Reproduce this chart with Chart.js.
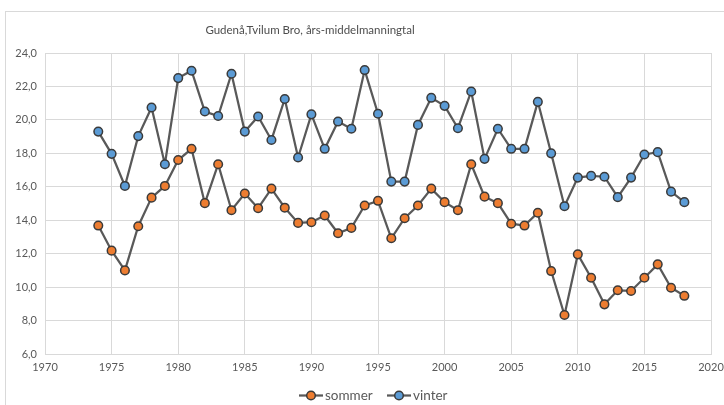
<!DOCTYPE html>
<html>
<head>
<meta charset="utf-8">
<script src="https://cdn.jsdelivr.net/npm/chart.js@4/dist/chart.umd.min.js"></script>
<style>
    html, body { margin: 0; padding: 0; background: #ffffff; }
    #wrap { width: 724px; height: 405px; position: relative; }
</style>
</head>
<body>
<div id="wrap"><canvas id="lineCanvas" width="724" height="405"></canvas></div>
<script>
var years = [1974, 1975, 1976, 1977, 1978, 1979, 1980, 1981, 1982, 1983, 1984, 1985, 1986, 1987, 1988,
    1989, 1990, 1991, 1992, 1993, 1994, 1995, 1996, 1997, 1998, 1999, 2000, 2001, 2002, 2003,
    2004, 2005, 2006, 2007, 2008, 2009, 2010, 2011, 2012, 2013, 2014, 2015, 2016, 2017, 2018];
var sommer = [13.68, 12.18, 11.0, 13.64, 15.35, 16.05, 17.6, 18.27, 15.02, 17.35, 14.6, 15.6, 14.72, 15.89, 14.75,
    13.84, 13.88, 14.28, 13.22, 13.54, 14.88, 15.16, 12.92, 14.12, 14.88, 15.89, 15.08, 14.6, 17.35, 15.41,
    15.02, 13.79, 13.68, 14.45, 10.96, 8.33, 11.96, 10.56, 8.97, 9.81, 9.77, 10.56, 11.36, 9.96, 9.48];
var vinter = [19.3, 17.97, 16.05, 19.03, 20.74, 17.35, 22.5, 22.94, 20.5, 20.23, 22.76, 19.3, 20.2, 18.8, 21.25,
    17.75, 20.33, 18.27, 19.9, 19.47, 22.98, 20.37, 16.31, 16.31, 19.7, 21.32, 20.84, 19.5, 21.7, 17.67,
    19.47, 18.27, 18.27, 21.08, 18.0, 14.84, 16.55, 16.65, 16.6, 15.38, 16.55, 17.93, 18.07, 15.71, 15.08];
var xTicks = [1970, 1975, 1980, 1985, 1990, 1995, 2000, 2005, 2010, 2015, 2020];
var yTicks = [6, 8, 10, 12, 14, 16, 18, 20, 22, 24];
var titleText = 'Gudenå,Tvilum Bro, års-middelmanningtal';

var fontFamily = 'Lato, "Open Sans", sans-serif';
var textColor = '#595959';
var gridColor = '#d9d9d9';

function toPoints(values) {
    return years.map(function (y, i) {
        return { x: y, y: values[i] };
    });
}

function seriesStyle(label, values, fill) {
    return {
        label: label,
        data: toPoints(values),
        borderColor: '#595959',
        borderWidth: 2.25,
        tension: 0,
        pointRadius: 4.3,
        pointHoverRadius: 4.3,
        pointBackgroundColor: fill,
        pointBorderColor: '#3a3a3a',
        pointBorderWidth: 1.5
    };
}

// frame, title and excel-like legend
var decorPlugin = {
    id: 'decor',
    beforeDraw: function (chart) {
        var ctx = chart.ctx;
        ctx.save();
        ctx.fillStyle = '#ffffff';
        ctx.fillRect(0, 0, chart.width, chart.height);
        ctx.strokeStyle = '#d9d9d9';
        ctx.lineWidth = 1;
        ctx.strokeRect(5.5, 11.5, 900, 600);
        ctx.restore();
    },
    afterDraw: function (chart) {
        var ctx = chart.ctx;
        ctx.save();
        ctx.fillStyle = '#4d4d4d';
        ctx.font = '11.5px ' + fontFamily;
        ctx.textAlign = 'center';
        ctx.textBaseline = 'middle';
        ctx.fillText(titleText, 310, 30);

        var items = [
            { text: 'sommer', x: 299, color: '#ed7d31' },
            { text: 'vinter', x: 387, color: '#5b9bd5' }
        ];
        var ly = 395.5;
        ctx.font = '13.5px ' + fontFamily;
        ctx.textAlign = 'left';
        items.forEach(function (it) {
            ctx.strokeStyle = '#595959';
            ctx.lineWidth = 2.25;
            ctx.beginPath();
            ctx.moveTo(it.x, ly);
            ctx.lineTo(it.x + 24, ly);
            ctx.stroke();
            ctx.beginPath();
            ctx.arc(it.x + 12, ly, 4.3, 0, Math.PI * 2);
            ctx.fillStyle = it.color;
            ctx.fill();
            ctx.lineWidth = 1.5;
            ctx.strokeStyle = '#3a3a3a';
            ctx.stroke();
            ctx.fillStyle = textColor;
            ctx.fillText(it.text, it.x + 26, ly);
        });
        ctx.restore();
    }
};

var lineChart = new Chart(document.getElementById('lineCanvas'), {
    type: 'line',
    data: {
        datasets: [
            seriesStyle('sommer', sommer, '#ed7d31'),
            seriesStyle('vinter', vinter, '#5b9bd5')
        ]
    },
    options: {
        responsive: false,
        animation: false,
        layout: { padding: { left: 5, right: 13, top: 53, bottom: 29 } },
        plugins: {
            legend: { display: false },
            title: { display: false },
            tooltip: { enabled: false }
        },
        scales: {
            x: {
                type: 'linear',
                min: xTicks[0],
                max: xTicks[xTicks.length - 1],
                afterFit: function (scale) {
                    scale.height = 22;
                    scale.paddingLeft = 0;
                    scale.paddingRight = 0;
                },
                afterBuildTicks: function (scale) {
                    scale.ticks = xTicks.map(function (v) { return { value: v }; });
                },
                ticks: {
                    color: textColor,
                    padding: 7,
                    maxRotation: 0,
                    font: { family: fontFamily, size: 11 },
                    callback: function (v) { return String(v); }
                },
                grid: { color: gridColor, drawTicks: false, lineWidth: 1 },
                border: { color: gridColor }
            },
            y: {
                min: yTicks[0],
                max: yTicks[yTicks.length - 1],
                afterFit: function (scale) {
                    scale.width = 40;
                    scale.paddingTop = 0;
                    scale.paddingBottom = 0;
                },
                afterBuildTicks: function (scale) {
                    scale.ticks = yTicks.map(function (v) { return { value: v }; });
                },
                ticks: {
                    color: textColor,
                    padding: 8,
                    font: { family: fontFamily, size: 11 },
                    callback: function (v) { return v.toFixed(1).replace('.', ','); }
                },
                grid: { color: gridColor, drawTicks: false, lineWidth: 1 },
                border: { color: gridColor }
            }
        }
    },
    plugins: [decorPlugin]
});
</script>
</body>
</html>
